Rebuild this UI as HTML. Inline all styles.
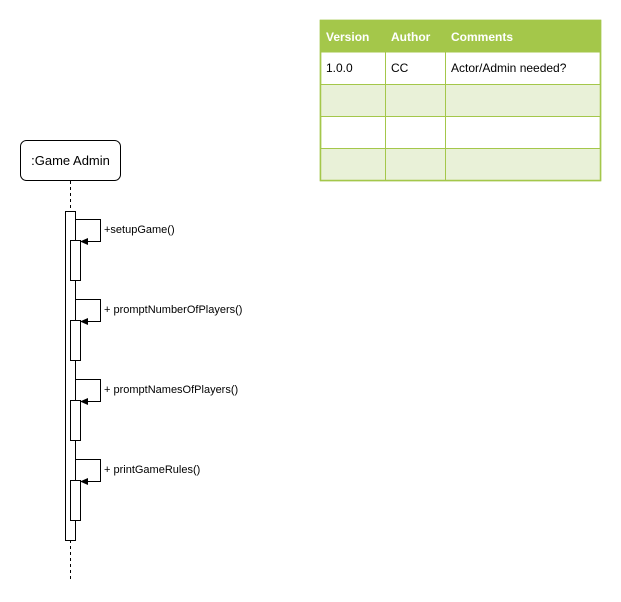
<!DOCTYPE html>
<html><head><style>
body{margin:0;width:621px;height:602px;background:#fff;overflow:hidden}
svg{position:absolute;left:0;top:0}
text{font-family:"Liberation Sans",sans-serif;font-size:11px;fill:#000}
</style></head><body>
<svg width="621" height="602" viewBox="0 0 621 602">
<defs><marker id="a" markerWidth="8" markerHeight="8" refX="7" refY="4" orient="auto" markerUnits="userSpaceOnUse"><path d="M0,0.5 L8,4 L0,7.5 Z" fill="#000"/></marker></defs>
<!-- table -->
<rect x="320.5" y="20.5" width="280" height="160" fill="#fff" stroke="#a4c74a" stroke-width="1.5"/>
<rect x="320.5" y="20.5" width="280" height="32" fill="#a4c74a"/>
<rect x="320.5" y="84.5" width="280" height="32" fill="#e9f1d8"/>
<rect x="320.5" y="148.5" width="280" height="32" fill="#e9f1d8"/>
<g stroke="#a4c74a" stroke-width="1">
<line x1="320" y1="84.5" x2="600" y2="84.5"/><line x1="320" y1="116.5" x2="600" y2="116.5"/><line x1="320" y1="148.5" x2="600" y2="148.5"/>
<line x1="385.5" y1="20" x2="385.5" y2="180"/><line x1="445.5" y1="20" x2="445.5" y2="180"/>
</g>
<rect x="320.5" y="20.5" width="280" height="160" fill="none" stroke="#a4c74a" stroke-width="1.5"/>
<g style="font-weight:bold;font-size:12px"><text x="326" y="41" style="fill:#fff;font-weight:bold;font-size:12px">Version</text><text x="391" y="41" style="fill:#fff;font-weight:bold;font-size:12px">Author</text><text x="451" y="41" style="fill:#fff;font-weight:bold;font-size:12px">Comments</text></g>
<text x="326" y="72" style="font-size:12px">1.0.0</text><text x="391" y="72" style="font-size:12px">CC</text><text x="451" y="72" style="font-size:12px">Actor/Admin needed?</text>
<!-- actor -->
<rect x="20.5" y="140.5" width="100" height="40" rx="6" fill="#fff" stroke="#000"/>
<text x="70.5" y="165" text-anchor="middle" style="font-size:13px">:Game Admin</text>
<line x1="70.5" y1="181" x2="70.5" y2="211" stroke="#000" stroke-dasharray="3,3"/>
<line x1="70.5" y1="540" x2="70.5" y2="580" stroke="#000" stroke-dasharray="3,3"/>
<rect x="65.5" y="211.5" width="10" height="329" fill="#fff" stroke="#000"/>
<g fill="#fff" stroke="#000">
<rect x="70.5" y="240.5" width="10" height="40"/><rect x="70.5" y="320.5" width="10" height="40"/>
<rect x="70.5" y="400.5" width="10" height="40"/><rect x="70.5" y="480.5" width="10" height="40"/>
</g>
<g fill="none" stroke="#000" marker-end="url(#a)">
<path d="M75.5,219.5 H100.5 V241.5 H81"/>
<path d="M75.5,299.5 H100.5 V321.5 H81"/>
<path d="M75.5,379.5 H100.5 V401.5 H81"/>
<path d="M75.5,459.5 H100.5 V481.5 H81"/>
</g>
<text x="104" y="233">+setupGame()</text>
<text x="104" y="313">+ promptNumberOfPlayers()</text>
<text x="104" y="393">+ promptNamesOfPlayers()</text>
<text x="104" y="473">+ printGameRules()</text>
</svg>
</body></html>
